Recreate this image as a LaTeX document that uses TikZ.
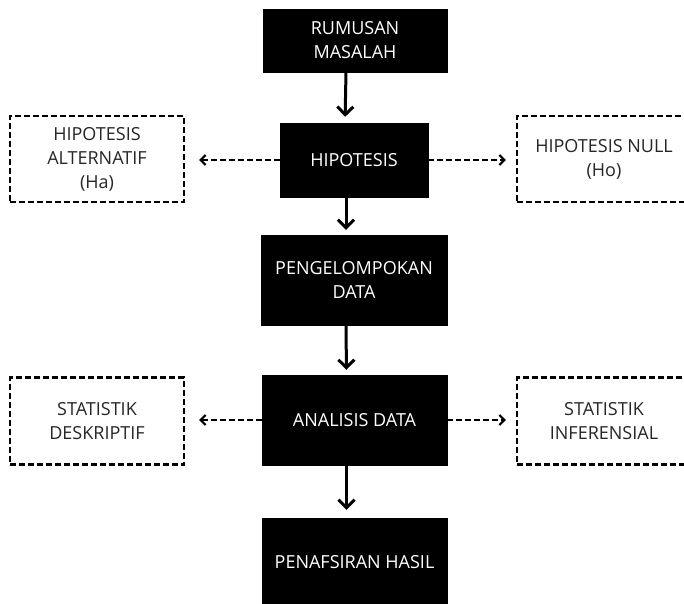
\documentclass[tikz,border=0pt]{standalone}
\usepackage{fontspec}
\setmainfont{Open Sans}
\usetikzlibrary{arrows.meta}
\begin{document}
\begin{tikzpicture}[x=1pt,y=-1pt,
  blackbox/.style={draw=black,fill=black,text=white,align=center,inner sep=0pt,
    font=\fontsize{18}{24}\selectfont},
  dashbox/.style={draw=black,dash pattern=on 6pt off 3pt,line width=2.2pt,fill=white,
    text=black!85,align=center,inner sep=0pt,font=\fontsize{18}{24}\selectfont},
  mainarrow/.style={line width=3pt,-{Straight Barb[length=8pt,width=16pt,line width=3pt]}},
  sidearrow/.style={line width=2.2pt,dash pattern=on 6pt off 3pt,
    -{Straight Barb[length=5pt,width=10pt,line width=2.2pt]}}]
\useasboundingbox (0,0) rectangle (684,603);
\fill[white] (0,0) rectangle (684,603);
\begin{scope}
\clip (0,0) rectangle (684,603);
\node[blackbox,minimum width=184pt,minimum height=63pt] (rm) at (355,40.5) {RUMUSAN\\MASALAH};
\node[blackbox,minimum width=148pt,minimum height=74pt] (hip) at (354,160) {HIPOTESIS};
\node[blackbox,minimum width=186pt,minimum height=90pt] (peng) at (354,280) {PENGELOMPOKAN\\DATA};
\node[blackbox,minimum width=185pt,minimum height=90pt] (ana) at (354.5,420) {ANALISIS DATA};
\node[blackbox,minimum width=185pt,minimum height=94pt] (pen) at (354.5,565) {};
\node[text=white,font=\fontsize{18}{24}\selectfont] (pent) at (354.5,562) {PENAFSIRAN HASIL};
\node[dashbox,minimum width=174pt,minimum height=86pt] (ha) at (97,159) {HIPOTESIS\\ALTERNATIF\\(Ha)};
\node[dashbox,minimum width=174pt,minimum height=86pt] (ho) at (604,159) {HIPOTESIS NULL\\(Ho)};
\node[dashbox,minimum width=174pt,minimum height=87pt] (sd) at (97,421) {STATISTIK\\DESKRIPTIF};
\node[dashbox,minimum width=174pt,minimum height=87pt] (si) at (604,421) {STATISTIK\\INFERENSIAL};
\end{scope}
\draw[mainarrow,shorten >=6pt] ([xshift=-9pt]rm.south) -- ([xshift=-9pt]hip.north);
\draw[mainarrow,shorten >=5pt] ([xshift=-8pt]hip.south) -- ([xshift=-8pt]peng.north);
\draw[mainarrow,shorten >=5pt] ([xshift=-8pt]peng.south) -- ([xshift=-8pt]ana.north);
\draw[mainarrow,shorten >=8pt] ([xshift=-8pt]ana.south) -- ([xshift=-8pt]pen.north);
\draw[sidearrow,shorten >=14pt] (hip.west) -- (hip.west -| ha.east);
\draw[sidearrow,shorten >=10pt] (hip.east) -- (hip.east -| ho.west);
\draw[sidearrow,shorten >=14pt] (ana.west) -- (ana.west -| sd.east);
\draw[sidearrow,shorten >=10pt] (ana.east) -- (ana.east -| si.west);
\end{tikzpicture}
\end{document}
